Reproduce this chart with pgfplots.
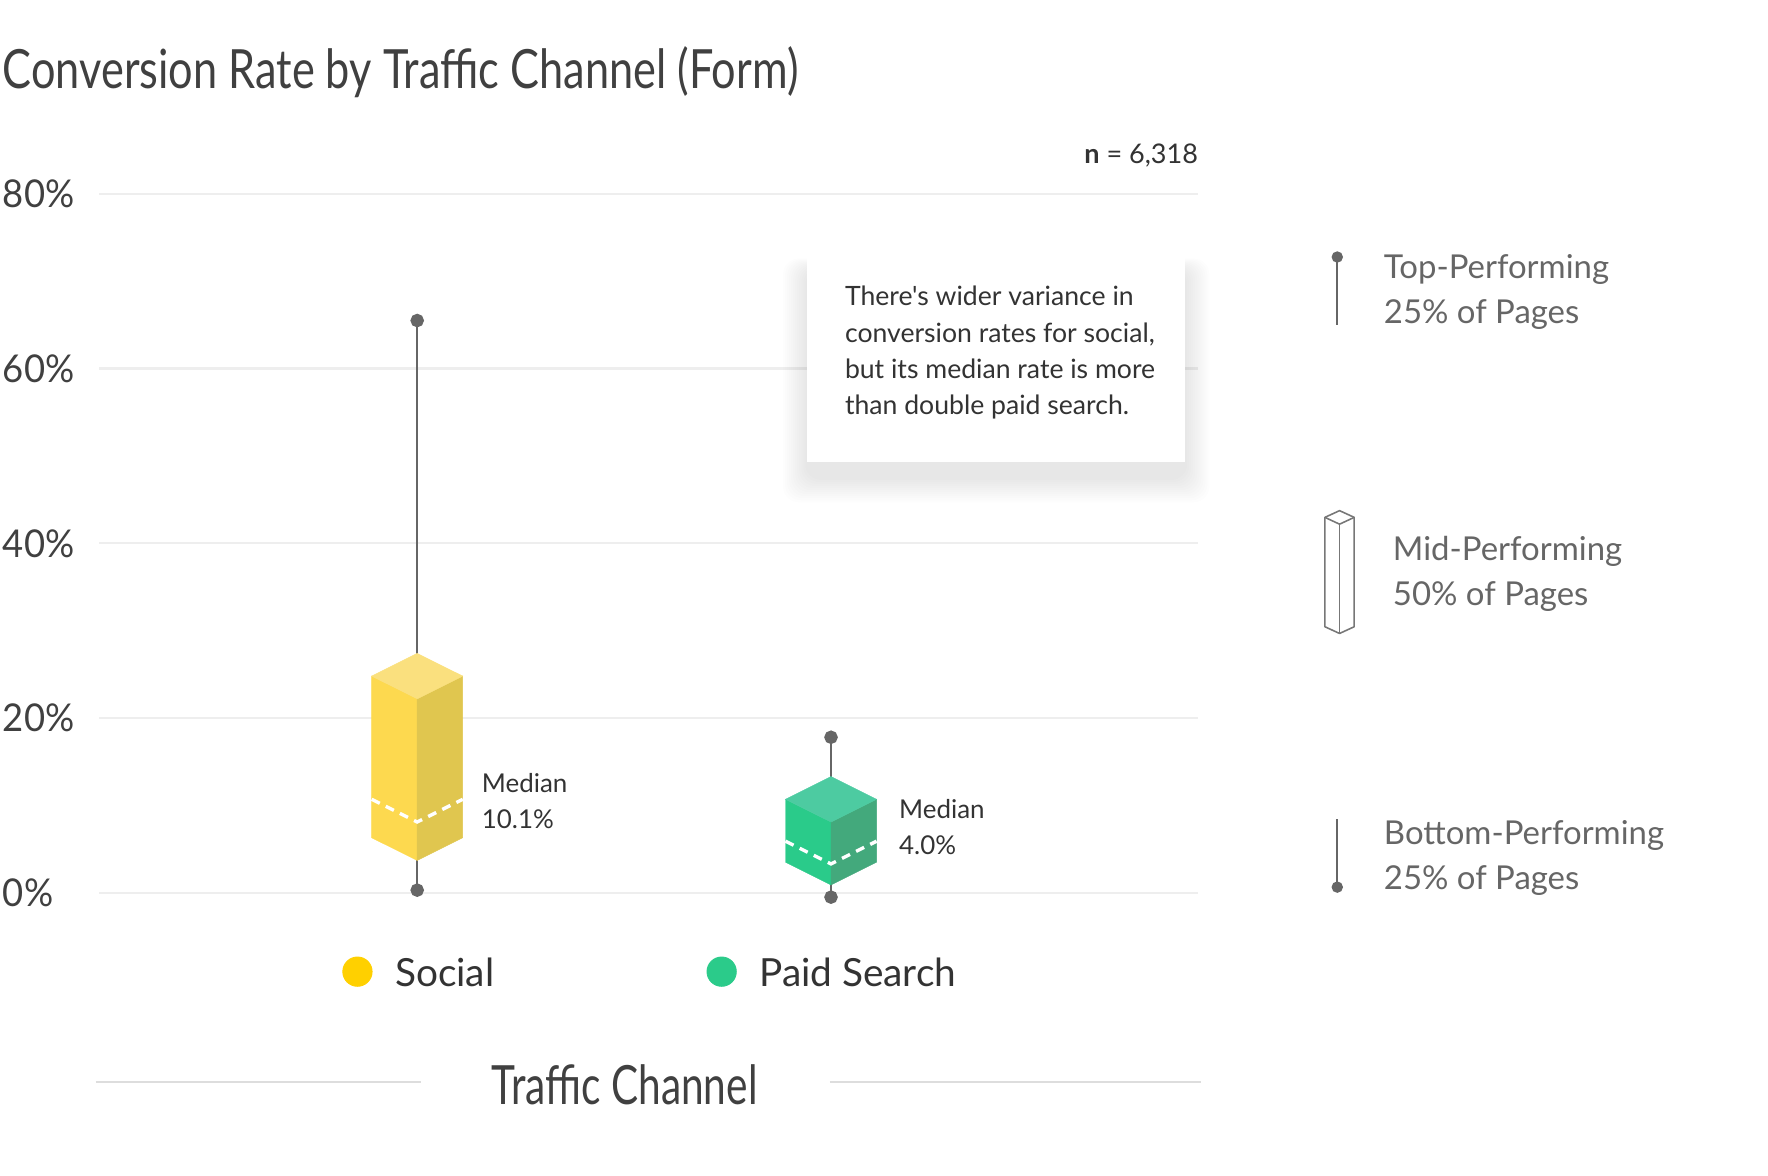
\documentclass[border=0pt]{standalone}
\usepackage{fontspec}
\setmainfont{Lato}
\newfontfamily\annfont{Lato}
\newfontfamily\condfont[FakeStretch=0.75]{Lato}
\newfontfamily\titlefont[FakeStretch=0.80]{Lato}
\newfontfamily\tickfont[FakeStretch=0.95]{Lato}
\usepackage{pgfplots}
\pgfplotsset{compat=1.18}
\definecolor{cTxt}{HTML}{333333}
\definecolor{cTitle}{HTML}{404040}
\definecolor{cLight}{HTML}{666666}
\definecolor{cGrid}{HTML}{EEEEEE}
\definecolor{cRule}{HTML}{DDDDDD}
\definecolor{cWhisk}{HTML}{666666}
\definecolor{sLeft}{HTML}{FDD94F}
\definecolor{sRight}{HTML}{E0C64F}
\definecolor{sTop}{HTML}{FAE07E}
\definecolor{pLeft}{HTML}{2ACB8A}
\definecolor{pRight}{HTML}{43A97C}
\definecolor{pTop}{HTML}{4DCBA1}
\definecolor{legY}{HTML}{FFD000}
\definecolor{legG}{HTML}{2BCB8A}
\definecolor{cIcon}{HTML}{777777}
\begin{document}
\begin{tikzpicture}
\begin{axis}[
  scale only axis, width=487.5pt, height=348.75pt,
  xmin=-0.768, xmax=1.888, ymin=-5, ymax=85,
  axis line style={draw=none}, major tick length=0pt,
  xtick=\empty, ytick={0,20,40,60,80},
  yticklabels={0\%,20\%,40\%,60\%,80\%},
  yticklabel style={anchor=west, inner sep=0pt, xshift=-43pt,
    font=\tickfont\fontsize{17}{20}\selectfont, text=cTitle},
  ymajorgrids, grid style={color=cGrid, line width=1pt},
  clip=false,
]
% whiskers
\addplot[color=cWhisk, line width=1pt, mark=*, mark size=2.5pt, mark options={fill=cWhisk}] coordinates {(0,0.3) (0,65.5)};
\addplot[color=cWhisk, line width=1pt, mark=*, mark size=2.5pt, mark options={fill=cWhisk}] coordinates {(1,-0.5) (1,17.8)};
% Social box
\addplot[fill=sLeft, draw=sLeft, line width=0.2pt] coordinates {(-0.110,6.3) (0,3.7) (0,22.2) (-0.110,24.8)} -- cycle;
\addplot[fill=sRight, draw=sRight, line width=0.2pt] coordinates {(0,3.7) (0.110,6.3) (0.110,24.8) (0,22.2)} -- cycle;
\addplot[fill=sTop, draw=sTop, line width=0.2pt] coordinates {(-0.110,24.8) (0,22.2) (0.110,24.8) (0,27.4)} -- cycle;
\addplot[white, line width=1.5pt, dash pattern=on 4pt off 3pt] coordinates {(-0.110,10.7) (0,8.1) (0.110,10.7)};
% Paid Search box
\addplot[fill=pLeft, draw=pLeft, line width=0.2pt] coordinates {(0.890,3.5) (1,0.9) (1,8.1) (0.890,10.7)} -- cycle;
\addplot[fill=pRight, draw=pRight, line width=0.2pt] coordinates {(1,0.9) (1.110,3.5) (1.110,10.7) (1,8.1)} -- cycle;
\addplot[fill=pTop, draw=pTop, line width=0.2pt] coordinates {(0.890,10.7) (1,8.1) (1.110,10.7) (1,13.3)} -- cycle;
\addplot[white, line width=1.5pt, dash pattern=on 4pt off 3pt] coordinates {(0.890,5.9) (1,3.3) (1.110,5.9)};
% median labels
\node[anchor=base west, inner sep=0pt, font=\fontsize{11.5}{14}\selectfont, text=cTxt] at (axis cs:0.1553,11.48) {Median};
\node[anchor=base west, inner sep=0pt, font=\fontsize{11.5}{14}\selectfont, text=cTxt] at (axis cs:0.1553,7.35) {10.1\%};
\node[anchor=base west, inner sep=0pt, font=\fontsize{11.5}{14}\selectfont, text=cTxt] at (axis cs:1.1635,8.51) {Median};
\node[anchor=base west, inner sep=0pt, font=\fontsize{11.5}{14}\selectfont, text=cTxt] at (axis cs:1.1635,4.38) {4.0\%};
% legend
\addplot[only marks, mark=*, mark size=6.5pt, color=legY] coordinates {(-0.1444,-9.03)};
\addplot[only marks, mark=*, mark size=6.5pt, color=legG] coordinates {(0.7357,-9.03)};
\node[anchor=west, inner sep=0pt, font=\fontsize{17.2}{20}\selectfont, text=cTxt] at (axis cs:-0.0545,-9.1) {Social};
\node[anchor=west, inner sep=0pt, font=\fontsize{17.2}{20}\selectfont, text=cTxt] at (axis cs:0.8256,-9.1) {Paid Search};
% axis title
\draw[cRule, line width=1pt] (axis cs:-0.7766,-21.68) -- (axis cs:0.0082,-21.68);
\draw[cRule, line width=1pt] (axis cs:0.9973,-21.68) -- (axis cs:1.8937,-21.68);
\node[inner sep=0pt, font=\condfont\fontsize{24}{28}\selectfont, text=cTitle] at (axis cs:0.5014,-21.94) {Traffic Channel};
% title and n
\node[anchor=west, inner sep=0pt, font=\titlefont\fontsize{24}{28}\selectfont, text=cTitle] at (axis cs:-1.0027,93.93) {Conversion Rate by Traffic Channel (Form)};
\node[anchor=east, inner sep=0pt, font=\fontsize{12}{14}\selectfont, text=cTxt] at (axis cs:1.888,84.39) {\textbf{n} = 6,318};
% right-hand key
\addplot[color=cWhisk, line width=1pt, mark=*, mark size=2pt, mark indices={1}] coordinates {(2.2234,72.77) (2.2234,65.03)};
\addplot[color=cWhisk, line width=1pt, mark=*, mark size=2pt, mark indices={2}] coordinates {(2.2234,8.39) (2.2234,0.645)};
\draw[cIcon, line width=0.7pt, line join=round] (axis cs:2.2289,43.74) -- (axis cs:2.2643,42.97) -- (axis cs:2.2643,30.45) -- (axis cs:2.2289,29.68) -- (axis cs:2.1935,30.45) -- (axis cs:2.1935,42.97) -- cycle;
\draw[cIcon, line width=0.7pt, line join=round] (axis cs:2.1935,42.97) -- (axis cs:2.2289,42.19) -- (axis cs:2.2643,42.97);
\draw[cIcon, line width=0.7pt] (axis cs:2.2289,42.19) -- (axis cs:2.2289,29.68);
\node[anchor=west, inner sep=0pt, font=\fontsize{14.6}{17}\selectfont, text=cLight] at (axis cs:2.3351,71.35) {Top-Performing};
\node[anchor=west, inner sep=0pt, font=\fontsize{14.6}{17}\selectfont, text=cLight] at (axis cs:2.3351,66.19) {25\% of Pages};
\node[anchor=west, inner sep=0pt, font=\fontsize{14.6}{17}\selectfont, text=cLight] at (axis cs:2.3569,39.09) {Mid-Performing};
\node[anchor=west, inner sep=0pt, font=\fontsize{14.6}{17}\selectfont, text=cLight] at (axis cs:2.3569,33.93) {50\% of Pages};
\node[anchor=west, inner sep=0pt, font=\fontsize{14.6}{17}\selectfont, text=cLight] at (axis cs:2.3351,6.58) {Bottom-Performing};
\node[anchor=west, inner sep=0pt, font=\fontsize{14.6}{17}\selectfont, text=cLight] at (axis cs:2.3351,1.42) {25\% of Pages};
% named coordinates
\coordinate (boxsw) at (axis cs:0.9428,49.29);
\coordinate (boxne) at (axis cs:1.8556,73.16);
\coordinate (t1) at (axis cs:1.0327,67.17);
\coordinate (t2) at (axis cs:1.0327,63.04);
\coordinate (t3) at (axis cs:1.0327,58.91);
\coordinate (t4) at (axis cs:1.0327,54.79);
\coordinate (bbsw) at (axis cs:-1.0082,-32.39);
\coordinate (bbne) at (axis cs:3.2643,102.19);
\end{axis}
% annotation box with soft shadow
\foreach \k in {1,...,12} {
  \fill[black, opacity=0.009, rounded corners=7pt]
    ([xshift={-\k*0.9pt}, yshift={-7pt-\k*0.9pt}]boxsw) rectangle ([xshift={\k*0.9pt}, yshift={-7pt+\k*0.4pt}]boxne);
}
\fill[white] (boxsw) rectangle (boxne);
\foreach \c/\t in {t1/{There's wider variance in}, t2/{conversion rates for social,}, t3/{but its median rate is more}, t4/{than double paid search.}} {
  \node[anchor=base west, inner sep=0pt, font=\annfont\fontsize{11.8}{14}\selectfont, text=cTxt] at (\c) {\t};
}
\pgfresetboundingbox
\path[use as bounding box] (bbsw) rectangle (bbne);
\end{tikzpicture}
\end{document}
